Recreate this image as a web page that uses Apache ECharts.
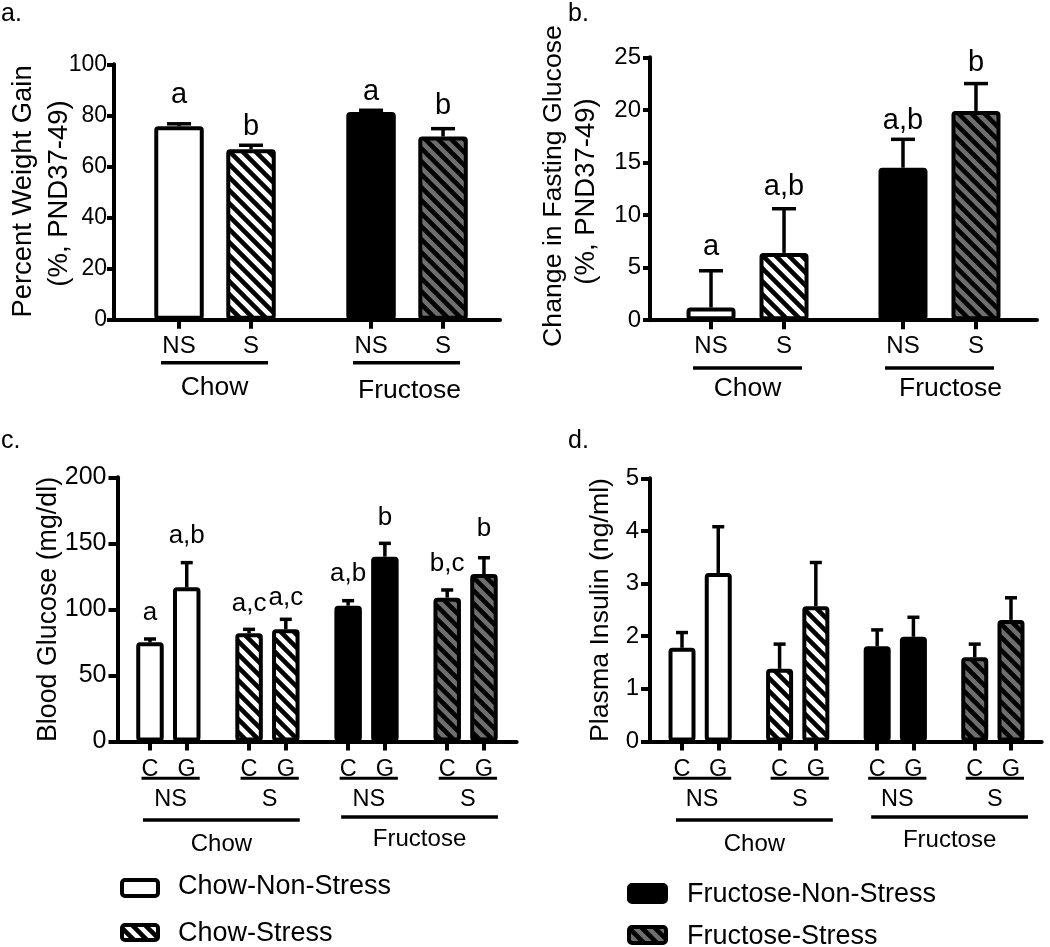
<!DOCTYPE html>
<html><head><meta charset="utf-8">
<script src="https://cdn.jsdelivr.net/npm/echarts@6/dist/echarts.min.js"></script>
<style>html,body{margin:0;padding:0;background:#fff}#c{width:1050px;height:947px}</style>
</head><body><div id="c"></div>
<script>
// ================= DATA =================
const groupNames = ['Chow-Non-Stress', 'Chow-Stress', 'Fructose-Non-Stress', 'Fructose-Stress'];

// a. Percent weight gain
const weightStress = ['NS', 'S', 'NS', 'S'];
const weightDiet = ['Chow', 'Fructose'];
const weightGain = [75.7, 66.7, 81.3, 71.7];
const weightGainSEM = [1.0, 1.6, 0.7, 3.1];
const weightLetters = ['a', 'b', 'a', 'b'];

// b. Change in fasting glucose
const fastStress = ['NS', 'S', 'NS', 'S'];
const fastDiet = ['Chow', 'Fructose'];
const fastGlucose = [1.2, 6.4, 14.5, 19.9];
const fastGlucoseSEM = [3.5, 4.2, 2.7, 2.6];
const fastLetters = ['a', 'a,b', 'a,b', 'b'];

// c./d. tolerance test: C / G within NS / S within Chow / Fructose
const tolTime = ['C', 'G', 'C', 'G', 'C', 'G', 'C', 'G'];
const tolStress = ['NS', 'S', 'NS', 'S'];
const tolDiet = ['Chow', 'Fructose'];
const bloodGlucose = [75.1, 116.7, 81.9, 84.9, 102.8, 139.9, 108.9, 126.8];
const bloodGlucoseSEM = [2.5, 18.7, 3.0, 7.6, 3.8, 10.1, 5.8, 12.3];
const bloodLetters = ['a', 'a,b', 'a,c', 'a,c', 'a,b', 'b', 'b,c', 'b'];
const plasmaInsulin = [1.78, 3.20, 1.38, 2.57, 1.81, 1.99, 1.60, 2.31];
const plasmaInsulinSEM = [0.29, 0.88, 0.47, 0.83, 0.31, 0.37, 0.25, 0.42];

// y-axis ranges
const yMaxA = 100, yStepA = 20;
const yMaxB = 25, yStepB = 5;
const yMaxC = 200, yStepC = 50;
const yMaxD = 5, yStepD = 1;

// ================= STYLE / LAYOUT =================
const FONT = '"Liberation Sans", Arial, Helvetica, sans-serif';
const MID = 0.347; // baseline offset of middle-aligned text (em)

function stripes(bg) {
  const s = 13, c = document.createElement('canvas');
  c.width = s; c.height = s;
  const g = c.getContext('2d');
  g.fillStyle = bg; g.fillRect(0, 0, s, s);
  g.strokeStyle = '#000'; g.lineWidth = 4.6;
  g.beginPath();
  for (let k = -1; k <= 1; k++) { g.moveTo(k * s - 3, -3); g.lineTo(k * s + s + 3, s + 3); }
  g.stroke();
  return c;
}
const fills = ['#ffffff', { image: stripes('#ffffff'), repeat: 'repeat' }, '#000000', { image: stripes('#6e6e6e'), repeat: 'repeat' }];

const panels = [
  { grid: { left: 114, top: 64.3, width: 386, height: 255.4 }, xmin: -0.903, xmax: 4.458, gap: 0.667,
    ymax: yMaxA, ystep: yStepA, yTick: 7, yMargin: 7, yFs: 23, xFs: 24, xMargin: 15,
    barW: 49.5, capW: 24, letFs: 29, letGap: [19, 8, 8, 13],
    labels: weightStress, values: weightGain, sem: weightGainSEM, letters: weightLetters, styleIdx: [0, 1, 2, 3] },
  { grid: { left: 650, top: 57.3, width: 387, height: 262.9 }, xmin: -0.836, xmax: 4.466, gap: 0.63,
    ymax: yMaxB, ystep: yStepB, yTick: 7, yMargin: 9, yFs: 24, xFs: 24, xMargin: 14.5,
    barW: 49, capW: 24, letFs: 29, letGap: [14, 12, 8, 11],
    labels: fastStress, values: fastGlucose, sem: fastGlucoseSEM, letters: fastLetters, styleIdx: [0, 1, 2, 3] },
  { grid: { left: 117.5, top: 477.3, width: 399.2, height: 264.2 }, xmin: -0.884, xmax: 9.979, gap: 0.696,
    ymax: yMaxC, ystep: yStepC, yTick: 9, yMargin: 11, yFs: 25, xFs: 23.5, xMargin: 16,
    barW: 27.5, capW: 12, letFs: 26, letGap: [17, 18, 16, 12, 18, 16, 17, 20],
    labels: tolTime, values: bloodGlucose, sem: bloodGlucoseSEM, letters: bloodLetters, styleIdx: [0, 0, 1, 1, 2, 2, 3, 3] },
  { grid: { left: 650, top: 478.3, width: 391.7, height: 263.2 }, xmin: -0.883, xmax: 9.923, gap: 0.692,
    ymax: yMaxD, ystep: yStepD, yTick: 9, yMargin: 11, yFs: 24, xFs: 23.5, xMargin: 16,
    barW: 27, capW: 12, letFs: 26, letGap: null,
    labels: tolTime, values: plasmaInsulin, sem: plasmaInsulinSEM, letters: null, styleIdx: [0, 0, 1, 1, 2, 2, 3, 3] }
];
panels.forEach(p => { p.pos = p.labels.map((_, i) => i + Math.floor(i / 2) * p.gap); });

// bracket groups (lines + group labels under the x axis)
const brackets = [
  [{ items: weightDiet.map((t, j) => ({ s: 2 * j, e: 2 * j + 1, text: t, lineDy: 43, textDy: j ? 71.3 : 68.3, dx: j ? 3 : 0 })), padL: 18, padR: 17, fs: 26.5, lw: 3.5 }],
  [{ items: fastDiet.map((t, j) => ({ s: 2 * j, e: 2 * j + 1, text: t, lineDy: 47.8, textDy: 68.8, dx: j ? 11 : 0 })), padL: 18, padR: 18, fs: 26.5, lw: 3.5 }],
  [{ items: tolStress.map((t, j) => ({ s: 2 * j, e: 2 * j + 1, text: t, lineDy: 36.8, textDy: 58.5 })), padL: 8.5, padR: 13, fs: 23.5, lw: 3 },
   { items: tolDiet.map((t, j) => ({ s: 4 * j, e: 4 * j + 3, text: t, lineDy: j ? 75.5 : 78.5, textDy: j ? 98 : 103 })), padL: 7, padR: 14, fs: 24, lw: 3.5 }],
  [{ items: tolStress.map((t, j) => ({ s: 2 * j, e: 2 * j + 1, text: t, lineDy: 36.8, textDy: 58.5 })), padL: 9, padR: 13, fs: 23.5, lw: 3 },
   { items: tolDiet.map((t, j) => ({ s: 4 * j, e: 4 * j + 3, text: t, lineDy: j ? 75.5 : 78.5, textDy: j ? 99 : 103 })), padL: 6, padR: 17, fs: 24, lw: 3.5 }]
];

// ================= OPTION =================
const grid = [], xAxis = [], yAxis = [], series = [];
panels.forEach((p, k) => {
  grid.push(Object.assign({ containLabel: false, outerBoundsMode: 'none' }, p.grid));
  xAxis.push({
    type: 'value', gridIndex: k, min: p.xmin, max: p.xmax,
    axisLine: { show: true, onZero: false, lineStyle: { color: '#000', width: 4 } },
    axisTick: { show: true, customValues: p.pos, length: 9, lineStyle: { color: '#000', width: 4 } },
    axisLabel: { show: true, customValues: p.pos, margin: p.xMargin, color: '#000', fontSize: p.xFs, fontFamily: FONT,
      formatter: v => { const i = p.pos.findIndex(q => Math.abs(q - v) < 1e-6); return i >= 0 ? p.labels[i] : ''; } },
    splitLine: { show: false }
  });
  yAxis.push({
    type: 'value', gridIndex: k, min: 0, max: p.ymax, interval: p.ystep,
    axisLine: { show: true, onZero: false, lineStyle: { color: '#000', width: 4 } },
    axisTick: { show: true, length: p.yTick, lineStyle: { color: '#000', width: 4 } },
    axisLabel: { margin: p.yMargin, color: '#000', fontSize: p.yFs, fontFamily: FONT },
    splitLine: { show: false }
  });
  series.push({
    type: 'bar', xAxisIndex: k, yAxisIndex: k, barWidth: p.barW, silent: true, z: 2,
    data: p.values.map((v, i) => ({ value: [p.pos[i], v],
      itemStyle: { color: fills[p.styleIdx[i]], borderColor: '#000', borderWidth: 4, borderRadius: 2 } }))
  });
  series.push({
    type: 'custom', xAxisIndex: k, yAxisIndex: k, z: 3, silent: true, clip: false,
    data: p.values.map((v, i) => [p.pos[i], v, p.sem[i]]),
    renderItem: (params, api) => {
      const i = params.dataIndex;
      const x = api.value(0), v = api.value(1), e = api.value(2);
      const b = api.coord([x, v]), t = api.coord([x, v + e]);
      const ch = [
        { type: 'line', shape: { x1: b[0], y1: b[1], x2: t[0], y2: t[1] }, style: { stroke: '#000', lineWidth: 3.5 } },
        { type: 'line', shape: { x1: t[0] - p.capW / 2, y1: t[1], x2: t[0] + p.capW / 2, y2: t[1] }, style: { stroke: '#000', lineWidth: 3.5 } }
      ];
      if (p.letters) ch.push({ type: 'text', x: t[0], y: t[1] - p.letGap[i] - MID * p.letFs,
        style: { text: p.letters[i], fill: '#000', font: p.letFs + 'px ' + FONT, align: 'center', verticalAlign: 'middle' } });
      return { type: 'group', children: ch };
    }
  });
  brackets[k].forEach(br => {
    series.push({
      type: 'custom', xAxisIndex: k, yAxisIndex: k, z: 3, silent: true, clip: false,
      data: br.items.map(it => [p.pos[it.s], p.pos[it.e]]),
      renderItem: (params, api) => {
        const it = br.items[params.dataIndex];
        const a = api.coord([api.value(0), 0]), c = api.coord([api.value(1), 0]);
        const x0 = a[0] - br.padL, x1 = c[0] + br.padR, y0 = a[1];
        return { type: 'group', children: [
          { type: 'line', shape: { x1: x0, y1: y0 + it.lineDy, x2: x1, y2: y0 + it.lineDy }, style: { stroke: '#000', lineWidth: br.lw } },
          { type: 'text', x: (x0 + x1) / 2 + (it.dx || 0), y: y0 + it.textDy,
            style: { text: it.text, fill: '#000', font: br.fs + 'px ' + FONT, align: 'center', verticalAlign: 'middle' } }
        ] };
      }
    });
  });
});

function txt(text, x, y, fs, rot, align) {
  return { type: 'text', x: x, y: y, rotation: rot || 0, silent: true,
    style: { text: text, fill: '#000', font: fs + 'px ' + FONT, align: align || 'center', verticalAlign: 'middle' } };
}
const R = Math.PI / 2;
const graphic = [
  txt('a.', 1, 14, 25, 0, 'left'), txt('b.', 568, 14, 25, 0, 'left'),
  txt('c.', 1, 441, 25, 0, 'left'), txt('d.', 568, 441, 25, 0, 'left'),
  txt('Percent Weight Gain', 23.4, 191.5, 27.4, R), txt('(%, PND37-49)', 59.4, 193.5, 27.5, R),
  txt('Change in Fasting Glucose', 553.4, 186, 26.7, R), txt('(%, PND37-49)', 586, 191.5, 27.5, R),
  txt('Blood Glucose (mg/dl)', 48.4, 609.5, 26.8, R),
  txt('Plasma Insulin (ng/ml)', 600.4, 610, 26.7, R),
  { type: 'rect', silent: true, shape: { x: 122, y: 880, width: 36, height: 16, r: 3 }, style: { fill: fills[0], stroke: '#000', lineWidth: 4 } },
  { type: 'rect', silent: true, shape: { x: 122, y: 925, width: 36, height: 15, r: 3 }, style: { fill: fills[1], stroke: '#000', lineWidth: 4 } },
  { type: 'rect', silent: true, shape: { x: 629, y: 885, width: 37, height: 17, r: 3 }, style: { fill: fills[2], stroke: '#000', lineWidth: 4 } },
  { type: 'rect', silent: true, shape: { x: 629, y: 927, width: 37, height: 16, r: 3 }, style: { fill: fills[3], stroke: '#000', lineWidth: 4 } },
  txt(groupNames[0], 178, 886.7, 27, 0, 'left'),
  txt(groupNames[1], 178, 933.4, 27, 0, 'left'),
  txt(groupNames[2], 687, 894.7, 27, 0, 'left'),
  txt(groupNames[3], 687, 936.7, 27, 0, 'left')
];

const chart = echarts.init(document.getElementById('c'), null, { renderer: 'canvas' });
chart.setOption({ animation: false, backgroundColor: '#fff', grid, xAxis, yAxis, series, graphic });
</script>
</body></html>
